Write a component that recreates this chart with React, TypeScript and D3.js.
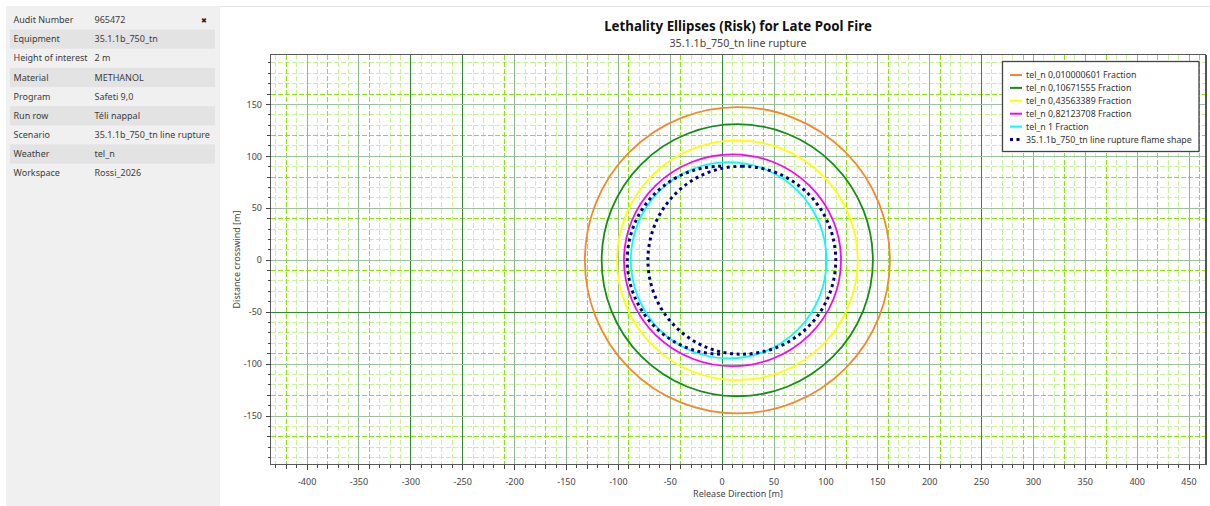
import * as d3 from 'd3';

// ---- info panel ----
const infoLabels = ['Audit Number', 'Equipment', 'Height of interest', 'Material', 'Program', 'Run row', 'Scenario', 'Weather', 'Workspace'];
const infoValues = ['965472', '35.1.1b_750_tn', '2 m', 'METHANOL', 'Safeti 9,0', 'Téli nappal', '35.1.1b_750_tn line rupture', 'tel_n', 'Rossi_2026'];

// ---- lethality ellipses (metres) ----
const seriesNames = [
  'tel_n 0,010000601 Fraction',
  'tel_n 0,10671555 Fraction',
  'tel_n 0,43563389 Fraction',
  'tel_n 0,82123708 Fraction',
  'tel_n 1 Fraction',
];
const seriesColors = ['#f7872c', '#178c17', '#ffff00', '#ff00ff', '#00ffff'];
const centerX = [14.7, 14.6, 14.7, 10, 6.3];
const centerY = [0, 0, 0, 0, 0];
const radiusX = [147, 130.7, 116, 104.6, 94.3];
const radiusY = [147.5, 131, 115.5, 102, 94.5];

// flame shape: full circle downwind + upwind half circle
const flameName = '35.1.1b_750_tn line rupture flame shape';
const flameCenterX = [19, -1];
const flameRadius = [90.5, 90.5];
const flameHalf = [false, true];

// ---- axes ----
const xTicks = [-400, -350, -300, -250, -200, -150, -100, -50, 0, 50, 100, 150, 200, 250, 300, 350, 400, 450];
const yTicks = [-150, -100, -50, 0, 50, 100, 150];
const xDomain = [-435.3, 465.9];
const yDomain = [-196.7, 198.1];

const W = 1210;
const H = 506;
const plot = { left: 270.5, right: 1205.5, top: 54.5, bottom: 464.5 };
const FONT = "'Noto Sans', sans-serif";

// snap a coordinate to the pixel grid so 1px lines stay crisp
const snap = (v: number) => Math.round(v - 0.5) + 0.5;

export default function App() {
  const x = d3.scaleLinear().domain(xDomain).range([plot.left, plot.right]);
  const y = d3.scaleLinear().domain(yDomain).range([plot.bottom, plot.top]);
  const kx = x(1) - x(0);
  const ky = y(0) - y(1);

  const minorX = d3.range(-430, xDomain[1], 10);
  const minorY = d3.range(-190, yDomain[1], 10);
  const majorX = minorX.filter(v => v % 50 === 0);
  const majorY = minorY.filter(v => v % 50 === 0);
  // secondary (brighter) grid, every ~42 m, landing on the nearest 10 m line
  const altX = d3.range(-420.8, xDomain[1], 41.8).map(v => Math.round(v / 10) * 10);
  const altY = d3.range(160.4, yDomain[0], -41.8).map(v => Math.round(v / 10) * 10);
  const isMajor = (v: number) => v % 50 === 0;

  const legendRowY = (i: number) => 75 + i * 12.9;

  return (
    <div style={{ position: 'fixed', left: 0, top: 0, width: W, height: H, background: '#fff' }}>
      <svg width={W} height={H} style={{ display: 'block', fontFamily: FONT }}>
        {/* info panel */}
        <rect x={6} y={6} width={214} height={H - 6} fill="#f0f0f0" />
        {infoLabels.map((lab, i) => {
          const cy = 20 + i * 19.15;
          return (
            <g key={lab}>
              {i % 2 === 1 && <rect x={10} y={cy - 9.6} width={205} height={19.2} fill="#e3e3e3" />}
              <text x={13.5} y={cy} dy="0.35em" fontSize={9} fill="#3c3c3c">{lab}</text>
              <text x={94.5} y={cy} dy="0.35em" fontSize={9} fill="#3c3c3c">{infoValues[i]}</text>
            </g>
          );
        })}
        <text x={204} y={21} dy="0.35em" fontSize={7} textAnchor="middle" fill="#222">✖</text>
        <line x1={220} x2={W} y1={6.5} y2={6.5} stroke="#e4e4e4" />

        {/* titles */}
        <text x={(plot.left + plot.right) / 2} y={30.5} textAnchor="middle" fontSize={13.3} fontWeight="bold" fill="#111">
          Lethality Ellipses (Risk) for Late Pool Fire
        </text>
        <text x={(plot.left + plot.right) / 2} y={46.5} textAnchor="middle" fontSize={10.7} fill="#444">
          35.1.1b_750_tn line rupture
        </text>

        {/* grid */}
        <g shapeRendering="crispEdges">
          {minorX.filter(v => !altX.includes(v) && !isMajor(v)).map(v => (
            <line key={'mx' + v} x1={snap(x(v))} x2={snap(x(v))} y1={plot.top} y2={plot.bottom} stroke="#c6f596" strokeDasharray="5 2" />
          ))}
          {minorY.filter(v => !altY.includes(v) && !isMajor(v)).map(v => (
            <line key={'my' + v} x1={plot.left} x2={plot.right} y1={snap(y(v))} y2={snap(y(v))} stroke="#c6f596" strokeDasharray="5 2" />
          ))}
          {altX.filter(v => !isMajor(v)).map(v => (
            <line key={'ax' + v} x1={snap(x(v))} x2={snap(x(v))} y1={plot.top} y2={plot.bottom} stroke="#80ee00" strokeDasharray="5 2" />
          ))}
          {altY.filter(v => !isMajor(v)).map(v => (
            <line key={'ay' + v} x1={plot.left} x2={plot.right} y1={snap(y(v))} y2={snap(y(v))} stroke="#80ee00" strokeDasharray="5 2" />
          ))}
          {majorX.map(v => (
            <line key={'Mx' + v} x1={snap(x(v))} x2={snap(x(v))} y1={plot.top} y2={plot.bottom}
              stroke={altX.includes(v) ? '#2b8f2b' : '#8cba8c'} strokeWidth={1} />
          ))}
          {majorY.map(v => (
            <line key={'My' + v} x1={plot.left} x2={plot.right} y1={snap(y(v))} y2={snap(y(v))}
              stroke={altY.includes(v) ? '#2b8f2b' : '#9cc39c'} strokeWidth={1} />
          ))}
        </g>

        {/* ellipses */}
        {seriesNames.map((name, i) => (
          <ellipse key={name} cx={x(centerX[i])} cy={y(centerY[i])} rx={radiusX[i] * kx} ry={radiusY[i] * ky}
            fill="none" stroke={seriesColors[i]} strokeWidth={1.8} />
        ))}

        {/* flame shape */}
        {flameCenterX.map((c, i) => {
          const cx = x(c);
          const cy = y(0);
          const rx = flameRadius[i] * kx;
          const ry = flameRadius[i] * ky;
          const d = flameHalf[i]
            ? `M${cx},${cy - ry}A${rx},${ry} 0 0 0 ${cx},${cy + ry}`
            : `M${cx},${cy - ry}A${rx},${ry} 0 1 1 ${cx},${cy + ry}A${rx},${ry} 0 1 1 ${cx},${cy - ry}`;
          return <path key={'f' + i} d={d} fill="none" stroke="#000080" strokeWidth={3} strokeDasharray="3 3.6" />;
        })}

        {/* frame */}
        <g shapeRendering="crispEdges">
          <rect x={plot.left} y={plot.top} width={plot.right - plot.left} height={plot.bottom - plot.top} fill="none" stroke="#5a5a5a" strokeWidth={1} />
          <line x1={plot.right} x2={plot.right} y1={plot.top} y2={plot.bottom + 0.5} stroke="#555" strokeWidth={2} />

          {/* x axis ticks */}
          {minorX.map(v => {
            const len = isMajor(v) ? 5 : altX.includes(v) ? 4 : 3;
            return <line key={'tx' + v} x1={snap(x(v))} x2={snap(x(v))} y1={plot.bottom} y2={plot.bottom + len} stroke="#444" />;
          })}
          {/* y axis ticks */}
          {minorY.map(v => {
            const len = isMajor(v) ? 5 : altY.includes(v) ? 4 : 3;
            return <line key={'ty' + v} x1={plot.left - len} x2={plot.left} y1={snap(y(v))} y2={snap(y(v))} stroke="#444" />;
          })}
        </g>
        {xTicks.map(v => (
          <text key={'lx' + v} x={x(v)} y={485} textAnchor="middle" fontSize={9} fill="#444">{v}</text>
        ))}
        <text x={(plot.left + plot.right) / 2} y={497} textAnchor="middle" fontSize={9} fill="#444">Release Direction [m]</text>
        {yTicks.map(v => (
          <text key={'ly' + v} x={262} y={y(v)} dy="0.35em" textAnchor="end" fontSize={9} fill="#444">{v}</text>
        ))}
        <text transform={`translate(240,${(plot.top + plot.bottom) / 2}) rotate(-90)`} textAnchor="middle" fontSize={9} fill="#444">
          Distance crosswind [m]
        </text>

        {/* legend */}
        <rect x={1002.5} y={61.5} width={196.5} height={90} fill="#fff" stroke="#444" strokeWidth={1.3} />
        {seriesNames.map((name, i) => (
          <g key={'lg' + name}>
            <line x1={1010} x2={1022} y1={legendRowY(i)} y2={legendRowY(i)} stroke={seriesColors[i]} strokeWidth={2} />
            <text x={1026} y={legendRowY(i)} dy="0.35em" fontSize={8.8} fill="#333">{name}</text>
          </g>
        ))}
        <line x1={1010} x2={1022} y1={legendRowY(5)} y2={legendRowY(5)} stroke="#000080" strokeWidth={3} strokeDasharray="3 3.5" />
        <text x={1026} y={legendRowY(5)} dy="0.35em" fontSize={8.8} fill="#333">{flameName}</text>
      </svg>
    </div>
  );
}
